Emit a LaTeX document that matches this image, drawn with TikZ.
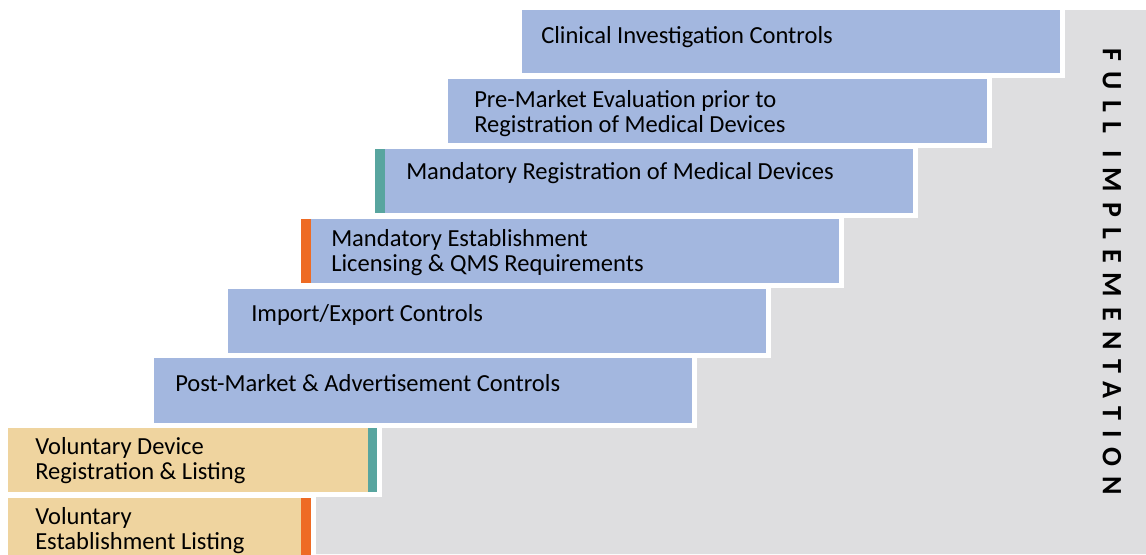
\documentclass[tikz,border=0pt]{standalone}
\usepackage{fontspec}
\setmainfont{Carlito}
\definecolor{barblue}{HTML}{A3B7DF}
\definecolor{bartan}{HTML}{EFD49F}
\definecolor{markteal}{HTML}{58A59F}
\definecolor{markorange}{HTML}{EE6B24}
\definecolor{stairgray}{HTML}{DEDEE0}
\begin{document}
\begin{tikzpicture}[x=0.75pt,y=-0.75pt,
  halo/.style={fill=white},
  bluebar/.style={fill=barblue},
  tanbar/.style={fill=bartan},
  tealmark/.style={fill=markteal},
  orangemark/.style={fill=markorange},
  steptext/.style={anchor=west, align=left, inner sep=0pt, text=black,
    font=\fontsize{18.4}{18.75}\selectfont},
  sidetext/.style={rotate=-90, inner sep=0pt, text=black,
    font=\fontsize{21}{21}\selectfont\bfseries\addfontfeature{LetterSpace=36}}]
\useasboundingbox (0,0) rectangle (1146,554);

% grey staircase behind the steps
\fill[stairgray] (522,10) -- (1146,10) -- (1146,554) -- (8,554) -- (8,428)
  -- (154,428) -- (154,358) -- (228,358) -- (228,289) -- (301,289)
  -- (301,219) -- (375,219) -- (375,149) -- (448,149) -- (448,79)
  -- (522,79) -- cycle;

% steps, each with a white margin
\fill[halo] (517,5) rectangle (1065,78);
\fill[bluebar] (522,10) rectangle (1060,73);
\fill[halo] (443,74) rectangle (992,148);
\fill[bluebar] (448,79) rectangle (987,143);
\fill[halo] (370,144) rectangle (918,218);
\fill[bluebar] (375,149) rectangle (913,213);
\fill[tealmark] (375,149) rectangle (385,213);
\fill[halo] (296,214) rectangle (844,288);
\fill[bluebar] (301,219) rectangle (839,283);
\fill[orangemark] (301,219) rectangle (311,283);
\fill[halo] (223,284) rectangle (771,358);
\fill[bluebar] (228,289) rectangle (766,353);
\fill[halo] (149,353) rectangle (697,428);
\fill[bluebar] (154,358) rectangle (692,423);
\fill[halo] (3,423) rectangle (382,497);
\fill[tanbar] (8,428) rectangle (377,492);
\fill[tealmark] (368,428) rectangle (377,492);
\fill[halo] (3,493) rectangle (316,560);
\fill[tanbar] (8,498) rectangle (311,560);
\fill[orangemark] (301,498) rectangle (311,560);

% step captions
\node[steptext] (clinical) at (541,37) {Clinical Investigation Controls};
\node[steptext] (premarket) at (474,114) {Pre-Market Evaluation prior to\\Registration of Medical Devices};
\node[steptext] (registration) at (406,173) {Mandatory Registration of Medical Devices};
\node[steptext] (licensing) at (331,253) {Mandatory Establishment\\Licensing \& QMS Requirements};
\node[steptext] (importexport) at (251,315) {Import/Export Controls};
\node[steptext] (postmarket) at (175,383) {Post-Market \& Advertisement Controls};
\node[steptext] (voldevice) at (35,461) {Voluntary Device\\Registration \& Listing};
\node[steptext] (volestab) at (35,531) {Voluntary\\Establishment Listing};

% side caption
\node[sidetext] (full) at (1112,272) {FULL IMPLEMENTATION};
\end{tikzpicture}
\end{document}
